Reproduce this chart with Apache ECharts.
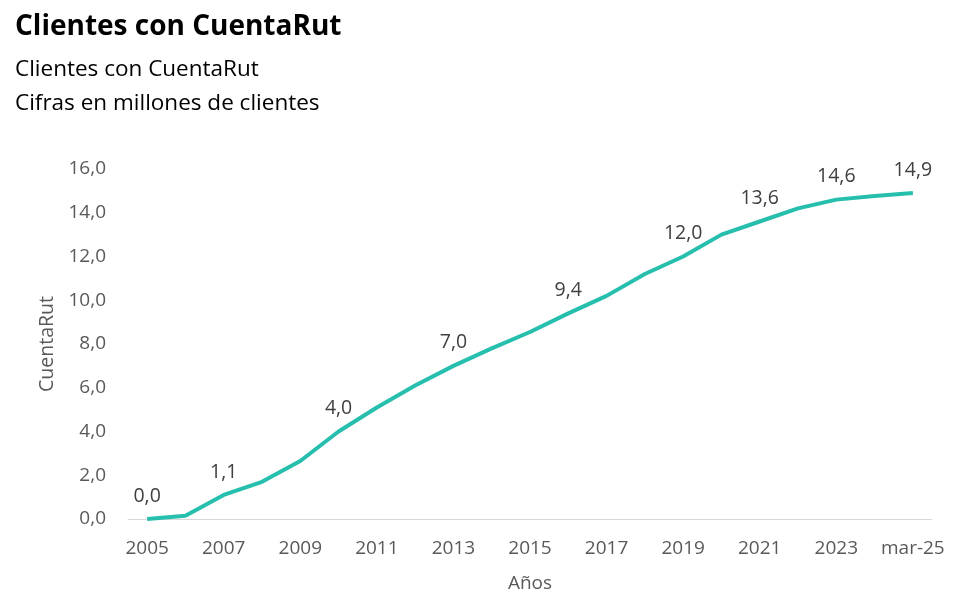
<!DOCTYPE html>
<html>
<head>
<meta charset="utf-8">
<script src="https://cdn.jsdelivr.net/npm/echarts@6/dist/echarts.min.js"></script>
<style>html,body{margin:0;padding:0;background:#fff;}#c{width:967px;height:603px;}</style>
</head>
<body>
<div id="c"></div>
<script>
const categories = ['2005','2006','2007','2008','2009','2010','2011','2012','2013','2014','2015','2016','2017','2018','2019','2020','2021','2022','2023','2024','mar-25'];
const values = [0.0,0.15,1.1,1.7,2.65,4.0,5.1,6.1,7.0,7.8,8.55,9.4,10.2,11.2,12.0,13.0,13.6,14.2,14.6,14.77,14.9];
const labeledCategories = ['2005','2007','2010','2013','2016','2019','2021','2023','mar-25'];
const yTicks = [0,2,4,6,8,10,12,14,16];

const FONT = '"Open Sans", sans-serif';
const chart = echarts.init(document.getElementById('c'));
chart.setOption({
  animation: false,
  title: [
    { text: 'Clientes con CuentaRut', left: 10, top: 8, textStyle: { fontFamily: FONT, fontSize: 28, fontWeight: 'bold', color: '#000' } },
    { text: 'Clientes con CuentaRut', left: 10, top: 53, textStyle: { fontFamily: FONT, fontSize: 22.5, fontWeight: 'normal', color: '#000' } },
    { text: 'Cifras en millones de clientes', left: 10, top: 87, textStyle: { fontFamily: FONT, fontSize: 22.5, fontWeight: 'normal', color: '#000' } }
  ],
  grid: { left: 128, right: 35, top: 169, bottom: 84 },
  xAxis: {
    type: 'category',
    data: categories,
    boundaryGap: true,
    name: 'Años',
    nameLocation: 'middle',
    nameGap: 55,
    nameTextStyle: { fontFamily: FONT, fontSize: 19, color: '#595959' },
    axisLine: { lineStyle: { color: '#d9d9d9', width: 1 } },
    axisTick: { show: false },
    axisLabel: { interval: 1, fontFamily: FONT, fontSize: 19, color: '#595959', margin: 20 }
  },
  yAxis: {
    type: 'value',
    min: yTicks[0],
    max: yTicks[yTicks.length - 1],
    interval: 2,
    name: 'CuentaRut',
    nameLocation: 'middle',
    nameGap: 70,
    nameRotate: 90,
    nameTextStyle: { fontFamily: FONT, fontSize: 19.5, color: '#595959' },
    axisLine: { show: false },
    axisTick: { show: false },
    splitLine: { show: false },
    axisLabel: { fontFamily: FONT, fontSize: 19, color: '#595959', margin: 22, formatter: v => v.toFixed(1).replace('.', ',') }
  },
  series: [{
    type: 'line',
    data: values,
    symbol: 'circle',
    symbolSize: 2,
    showSymbol: true,
    showAllSymbol: true,
    itemStyle: { color: 'rgba(0,0,0,0)' },
    lineStyle: { color: '#26bfae', width: 4 },
    label: {
      show: true,
      position: 'top',
      distance: 12,
      fontFamily: FONT,
      fontSize: 19.5,
      color: '#404040',
      formatter: p => labeledCategories.includes(p.name) ? p.value.toFixed(1).replace('.', ',') : ''
    }
  }]
});
</script>
</body>
</html>
